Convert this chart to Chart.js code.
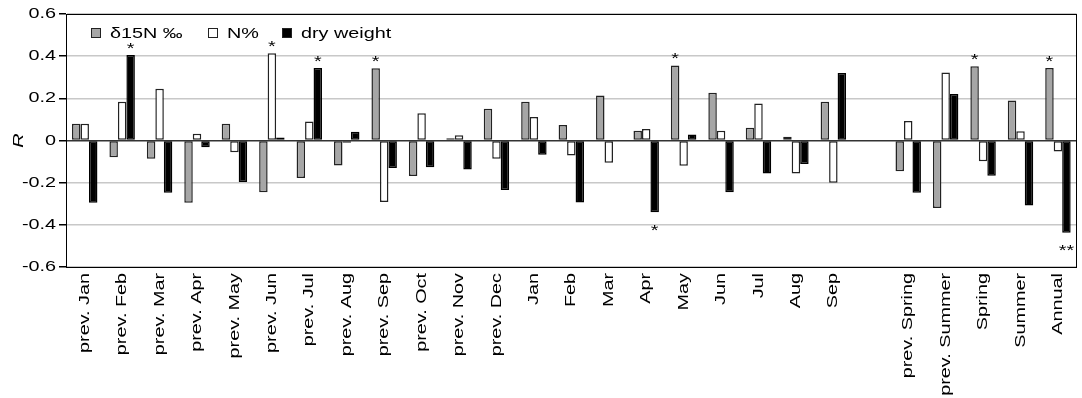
<!DOCTYPE html>
<html>
<head>
<meta charset="utf-8">
<script src="https://cdn.jsdelivr.net/npm/chart.js@4/dist/chart.umd.min.js"></script>
<style>
  html, body { margin: 0; padding: 0; background: #fff; }
  #wrap { width: 1082px; height: 398px; }
</style>
</head>
<body>
<div id="wrap"><canvas id="c" width="1082" height="398"></canvas></div>
<script>
// Month / season categories (an empty slot separates months from seasons)
const categories = [
  'prev. Jan', 'prev. Feb', 'prev. Mar', 'prev. Apr', 'prev. May', 'prev. Jun',
  'prev. Jul', 'prev. Aug', 'prev. Sep', 'prev. Oct', 'prev. Nov', 'prev. Dec',
  'Jan', 'Feb', 'Mar', 'Apr', 'May', 'Jun', 'Jul', 'Aug', 'Sep',
  '',
  'prev. Spring', 'prev. Summer', 'Spring', 'Summer', 'Annual'
];

// Correlation coefficients R
const delta15N = [
  0.08, -0.08, -0.086, -0.295, 0.08, -0.245, -0.178, -0.119, 0.343, -0.168, 0.011, 0.151,
  0.184, 0.073, 0.214, 0.046, 0.356, 0.227, 0.06, 0.018, 0.184,
  null,
  -0.146, -0.32, 0.352, 0.19, 0.344
];
const nPercent = [
  0.08, 0.184, 0.246, 0.032, -0.056, 0.414, 0.09, -0.011, -0.292, 0.129, 0.025, -0.086,
  0.111, -0.071, -0.106, 0.054, -0.12, 0.046, 0.175, -0.157, -0.2,
  null,
  0.092, 0.322, -0.098, 0.044, -0.052
];
const dryWeight = [
  -0.295, 0.405, -0.248, -0.032, -0.197, 0.014, 0.344, 0.041, -0.13, -0.127, -0.138, -0.235,
  -0.068, -0.294, -0.004, -0.34, 0.029, -0.246, -0.157, -0.111, 0.32,
  null,
  -0.248, 0.22, -0.167, -0.308, -0.438
];

// Significance marks per series ('' = not significant)
const sigDelta15N = [
  '', '', '', '', '', '', '', '', '*', '', '', '',
  '', '', '', '', '*', '', '', '', '',
  '',
  '', '', '*', '', '*'
];
const sigNPercent = [
  '', '', '', '', '', '*', '', '', '', '', '', '',
  '', '', '', '', '', '', '', '', '',
  '',
  '', '', '', '', ''
];
const sigDryWeight = [
  '', '*', '', '', '', '', '*', '', '', '', '', '',
  '', '', '', '*', '', '', '', '', '',
  '',
  '', '', '', '', '**'
];

const yTicks = [-0.6, -0.4, -0.2, 0, 0.2, 0.4, 0.6];

const FONT = "'Liberation Sans', Arial, sans-serif";
const FONT_SIZE = 15;
const TEXT_STRETCH = 1.32; // wide lettering: glyphs stretched along the text direction

const canvas = document.getElementById('c');
const ctx2d = canvas.getContext('2d');

// Stretch every label along its own baseline direction (works for rotated labels too)
(function widenText(ctx, k) {
  const rawFill = CanvasRenderingContext2D.prototype.fillText;
  const rawMeasure = CanvasRenderingContext2D.prototype.measureText;
  ctx.fillText = function (text, x, y, maxWidth) {
    this.save();
    this.translate(x, y);
    this.scale(k, 1);
    if (maxWidth !== undefined) rawFill.call(this, text, 0, 0, maxWidth / k);
    else rawFill.call(this, text, 0, 0);
    this.restore();
  };
  ctx.measureText = function (text) {
    const m = rawMeasure.call(this, text);
    return {
      width: m.width * k,
      actualBoundingBoxAscent: m.actualBoundingBoxAscent,
      actualBoundingBoxDescent: m.actualBoundingBoxDescent,
      actualBoundingBoxLeft: m.actualBoundingBoxLeft * k,
      actualBoundingBoxRight: m.actualBoundingBoxRight * k
    };
  };
})(ctx2d, TEXT_STRETCH);

// Significance asterisks above positive / below negative bars
const sigMarks = {
  id: 'sigMarks',
  afterDatasetsDraw(chart) {
    const ctx = chart.ctx;
    const marks = [sigDelta15N, sigNPercent, sigDryWeight];
    ctx.save();
    ctx.fillStyle = '#000';
    ctx.font = FONT_SIZE + 'px ' + FONT;
    ctx.textAlign = 'center';
    ctx.textBaseline = 'alphabetic';
    chart.data.datasets.forEach((ds, di) => {
      const meta = chart.getDatasetMeta(di);
      meta.data.forEach((bar, i) => {
        const m = marks[di][i];
        const v = ds.data[i];
        if (!m || v === null) return;
        if (v >= 0) {
          ctx.fillText(m, bar.x, bar.y - 2);
        } else {
          ctx.fillText(m, bar.x, bar.y + (m.length > 1 ? 22 : 23));
        }
      });
    });
    ctx.restore();
  }
};

// Legend inside the plot, in one row along the top
const innerLegend = {
  id: 'innerLegend',
  afterDraw(chart) {
    const ctx = chart.ctx;
    const a = chart.chartArea;
    const offsets = [25, 142, 216];
    ctx.save();
    ctx.font = FONT_SIZE + 'px ' + FONT;
    ctx.textBaseline = 'middle';
    ctx.textAlign = 'left';
    chart.data.datasets.forEach((ds, i) => {
      const x = Math.round(a.left + offsets[i]);
      const y = Math.round(a.top + 19);
      ctx.fillStyle = ds.backgroundColor;
      ctx.fillRect(x + 0.5, y - 4.5, 9, 9);
      ctx.strokeStyle = '#222';
      ctx.lineWidth = 1;
      ctx.strokeRect(x + 0.5, y - 4.5, 9, 9);
      ctx.fillStyle = '#000';
      ctx.fillText(ds.label, x + 19, y + 1);
    });
    ctx.restore();
  }
};

// Frame around the plotting area
const frame = {
  id: 'frame',
  afterDraw(chart) {
    const a = chart.chartArea;
    const ctx = chart.ctx;
    ctx.save();
    ctx.strokeStyle = '#000';
    ctx.lineWidth = 1;
    ctx.strokeRect(Math.round(a.left) + 0.5, Math.round(a.top) + 0.5,
      Math.round(a.right - a.left) - 1, Math.round(a.bottom - a.top));
    ctx.restore();
  }
};

new Chart(canvas, {
  type: 'bar',
  data: {
    labels: categories,
    datasets: [
      { label: 'δ15N ‰', data: delta15N, backgroundColor: '#a6a6a6', borderColor: '#222', borderWidth: 1.5 },
      { label: 'N%', data: nPercent, backgroundColor: '#fff', borderColor: '#222', borderWidth: 1.5 },
      { label: 'dry weight', data: dryWeight, backgroundColor: '#000', borderColor: '#000', borderWidth: 1.5 }
    ]
  },
  options: {
    responsive: false,
    animation: false,
    devicePixelRatio: 1,
    layout: { padding: { top: 14, right: 3, left: 0, bottom: 0 } },
    datasets: { bar: { barPercentage: 1.0, categoryPercentage: 0.68, borderSkipped: false } },
    plugins: {
      legend: { display: false },
      tooltip: { enabled: false }
    },
    scales: {
      x: {
        grid: { display: false, drawTicks: false },
        border: { display: true, color: '#000' },
        ticks: {
          font: { family: FONT, size: FONT_SIZE },
          color: '#000',
          minRotation: 90,
          maxRotation: 90,
          autoSkip: false,
          padding: 6
        },
        afterFit(scale) { scale.height = 131; }
      },
      y: {
        min: -0.6,
        max: 0.6,
        afterBuildTicks(scale) { scale.ticks = yTicks.map(v => ({ value: v })); },
        grid: {
          color: c => (c.tick && c.tick.value === 0) ? '#333' : '#c8c8c8',
          lineWidth: c => (c.tick && c.tick.value === 0) ? 1.5 : 1.5,
          tickColor: '#000',
          tickLength: 7
        },
        border: { display: true, color: '#000' },
        ticks: {
          font: { family: FONT, size: FONT_SIZE },
          color: '#000',
          padding: 3,
          callback: v => (Math.abs(v) < 1e-9 ? '0' : Number(v).toFixed(1))
        },
        title: {
          display: true,
          text: 'R',
          font: { family: FONT, size: FONT_SIZE, style: 'italic' },
          color: '#000',
          padding: { top: 10, bottom: 0 }
        },
        afterFit(scale) { scale.width = 66; }
      }
    }
  },
  plugins: [sigMarks, innerLegend, frame]
});
</script>
</body>
</html>
